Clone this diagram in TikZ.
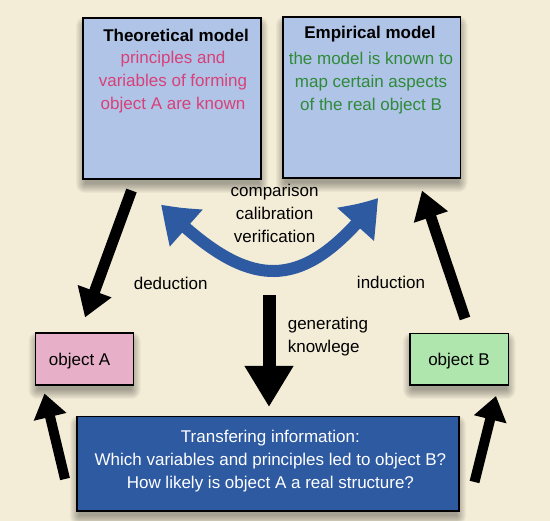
\documentclass[tikz,border=0pt]{standalone}
\usepackage{fontspec}
\setmainfont{Liberation Sans}
\usetikzlibrary{arrows.meta,bending}
\definecolor{bg}{HTML}{F3EDD7}
\definecolor{boxblue}{HTML}{AFC4E6}
\definecolor{pinkbox}{HTML}{E8B0C8}
\definecolor{greenbox}{HTML}{AEE6AE}
\definecolor{darkblue}{HTML}{2E5AA2}
\definecolor{pinktext}{HTML}{D9407A}
\definecolor{greentext}{HTML}{2F8A3A}
\newcommand\softshadow[4]{%
  \foreach \r in {0,1,...,9}{%
    \fill[black,opacity=0.035,rounded corners={\r pt}] ({#1-\r+2},{#2-\r+8}) rectangle ({#3+\r-2},{#4+\r+5});}}
\begin{document}
\begin{tikzpicture}[x=1pt,y=-1pt,
  box/.style={draw=black, line width=1.4pt, inner sep=0pt},
  lbl/.style={font=\fontsize{17}{23}\selectfont, align=center, inner sep=0pt},
  lblleft/.style={font=\fontsize{17}{23}\selectfont, align=left, inner sep=0pt},
  title/.style={font=\fontsize{17}{23}\selectfont\bfseries, inner sep=0pt},
  bigarrow/.style={line width=11pt, -{Triangle[length=28pt,width=34pt]}},
  smallarrow/.style={line width=10pt, -{Triangle[length=24pt,width=32pt]}},
]
\fill[bg] (0,0) rectangle (550,521);
\useasboundingbox (0,0) rectangle (550,521);

% shadows
\softshadow{83}{18}{261}{179}
\softshadow{283}{17}{460.5}{178}
\softshadow{35.5}{333}{133.5}{385}
\softshadow{410}{333.6}{508.6}{385}
\softshadow{77}{416.6}{459}{511}

% boxes
\node[box, fill=boxblue, minimum width=178pt, minimum height=161pt] (theo) at (172,98.5) {};
\node[box, fill=boxblue, minimum width=177.5pt, minimum height=161pt] (emp) at (371.75,97.5) {};
\node[box, fill=pinkbox, minimum width=98pt, minimum height=52pt] (objA) at (84.5,359) {};
\node[box, fill=greenbox, minimum width=98.6pt, minimum height=51.4pt] (objB) at (459.3,359.3) {};
\node[box, fill=darkblue, minimum width=382pt, minimum height=94.4pt] (trans) at (268,463.8) {};

% texts in boxes
\node[title] (theoT) at (176,35) {Theoretical model};
\node[lbl, text=pinktext] (theoB) at (173,82.5) {principles and\\variables of forming\\object A are known};
\node[title] (empT) at (370,34.4) {Empirical model};
\node[lbl, text=greentext] (empB) at (371,83) {the model is known to\\map certain aspects\\of the real object B};
\node[lbl] (objAT) at (79.6,361) {object A};
\node[lbl] (objBT) at (459,361) {object B};
\node[lbl, text=white] (transT) at (270.4,461.5) {Transfering information:\\Which variables and principles led to object B?\\How likely is object A a real structure?};

% free labels
\node[lbl] (cmp) at (274.6,213.5) {comparison\\calibration\\verification};
\node[lbl] (ded) at (170.7,283.5) {deduction};
\node[lbl] (ind) at (391,282.4) {induction};
\node[lblleft, anchor=west] (gen) at (287.6,336.6) {generating\\knowlege};

% arrow end points
\coordinate (dedS) at (131.5,190.5);
\coordinate (dedE) at (85,317.5);
\coordinate (indS) at (465,318.5);
\coordinate (indE) at (422,190.5);
\coordinate (genS) at (269,295);
\coordinate (genE) at (269,407);
\coordinate (upAS) at (65,479);
\coordinate (upAE) at (44.5,393.5);
\coordinate (upBS) at (474.5,482);
\coordinate (upBE) at (496,396);
\coordinate (cL) at (161,204.5);
\coordinate (cR) at (378,198);

% arrows
\draw[bigarrow] (dedS) -- (dedE);
\draw[bigarrow] (indS) -- (indE);
\draw[line width=13pt, -{Triangle[length=41pt,width=46pt]}] (genS) -- (genE);
\draw[smallarrow] (upAS) -- (upAE);
\draw[smallarrow] (upBS) -- (upBE);
\draw[darkblue, line width=12pt, {Triangle[length=36pt,width=46pt,bend]}-{Triangle[length=36pt,width=46pt,bend]}]
  (cL) .. controls (251,294.5) and (303,294) .. (cR);
\end{tikzpicture}
\end{document}
